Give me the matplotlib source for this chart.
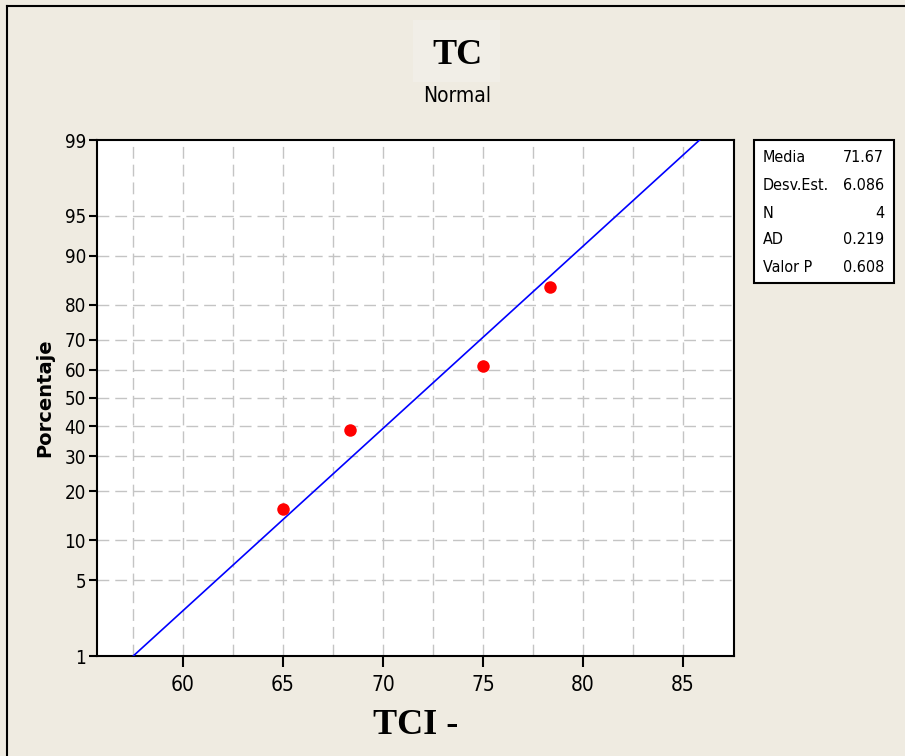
import matplotlib
matplotlib.use("Agg")
import matplotlib.pyplot as plt
from matplotlib.lines import Line2D
from matplotlib.patches import Rectangle
from statistics import NormalDist

# Data
tci_values = [65.0, 68.33, 75.0, 78.33]
percent_values = [15.9, 38.6, 61.4, 84.1]
media = 71.67
desv_est = 6.086

stat_labels = ["Media", "Desv.Est.", "N", "AD", "Valor P"]
stat_values = ["71.67", "6.086", "4", "0.219", "0.608"]

y_ticks_pct = [1, 5, 10, 20, 30, 40, 50, 60, 70, 80, 90, 95, 99]
x_ticks = [60, 65, 70, 75, 80, 85]
x_grid = [57.5, 60, 62.5, 65, 67.5, 70, 72.5, 75, 77.5, 80, 82.5, 85]

narrow = ["DejaVu Sans"]
serif = ["Liberation Serif", "DejaVu Serif"]
bg = "#EFEBE1"

nd = NormalDist()
def z(p):
    return nd.inv_cdf(p / 100.0)

W, H = 905, 756
fig = plt.figure(figsize=(W / 100, H / 100), dpi=100, facecolor=bg)

# Outer frame (top and left edges visible)
fig.add_artist(Line2D([7 / W, 7 / W], [0, 1 - 6 / H], color="black", lw=1.5,
                      transform=fig.transFigure))
fig.add_artist(Line2D([7 / W, 1], [1 - 6 / H, 1 - 6 / H], color="black", lw=1.5,
                      transform=fig.transFigure))

# faint light box behind title
fig.add_artist(Rectangle((413 / W, 1 - 82 / H), 87 / W, 62 / H,
                         transform=fig.transFigure, facecolor="#F1EEE7",
                         edgecolor="none", zorder=0))

ax = fig.add_axes([97 / W, 1 - 656 / H, (734 - 97) / W, (656 - 140) / H])
ax.set_facecolor("white")

zmin, zmax = z(1), z(99)
ax.set_xlim(55.7, 87.55)
ax.set_ylim(zmin, zmax)

# grid
for xv in x_grid:
    ax.axvline(xv, color="#C4C4C4", lw=1.0, ls=(0, (8.5, 4.3)), zorder=1)
for p in y_ticks_pct[1:-1]:
    ax.axhline(z(p), color="#C4C4C4", lw=1.0, ls=(0, (8.5, 4.3)), zorder=1)

# fitted line
ax.plot([media + desv_est * zmin, media + desv_est * zmax], [zmin, zmax],
        color="#0000FF", lw=1.2, zorder=3)

# data points
ax.plot(tci_values, [z(p) for p in percent_values], "o", color="#FF0000",
        markersize=9, markeredgewidth=0, zorder=4)

ax.set_yticks([z(p) for p in y_ticks_pct])
ax.set_yticklabels([str(p) for p in y_ticks_pct], family=narrow,
                   fontstretch="condensed", fontsize=13.5)
ax.set_xticks(x_ticks)
ax.set_xticklabels([str(v) for v in x_ticks], family=narrow,
                   fontstretch="condensed", fontsize=15)
ax.tick_params(axis="x", length=8, width=1.5, direction="out", pad=6)
ax.tick_params(axis="y", length=6, width=1.5, direction="out", pad=2)
for s in ax.spines.values():
    s.set_linewidth(1.5)

ax.set_ylabel("Porcentaje", fontsize=14, fontweight="bold",
              family=["DejaVu Sans"], fontstretch="normal", labelpad=7)
ax.set_xlabel("TCI -", fontsize=26, fontweight="bold", family=serif, labelpad=10)

# titles
fig.text(457 / W, 1 - 55 / H, "TC", ha="center", va="center", fontsize=26,
         fontweight="bold", family=serif)
fig.text(457 / W, 1 - 96 / H, "Normal", ha="center", va="center", fontsize=15,
         family=narrow, fontstretch="condensed")

# stats box
fig.add_artist(Rectangle((754 / W, 1 - 283 / H), 140 / W, 143 / H,
                         transform=fig.transFigure, facecolor="white",
                         edgecolor="black", lw=1.5))
rows_y = [158, 186, 213, 240, 268]
for lab, val, yy in zip(stat_labels, stat_values, rows_y):
    fig.text(763 / W, 1 - yy / H, lab, ha="left", va="center", fontsize=11.5,
             family=narrow, fontstretch="condensed")
    fig.text(884 / W, 1 - yy / H, val, ha="right", va="center", fontsize=11.5,
             family=narrow, fontstretch="condensed")

fig.savefig("out.png", dpi=100, facecolor=bg)
